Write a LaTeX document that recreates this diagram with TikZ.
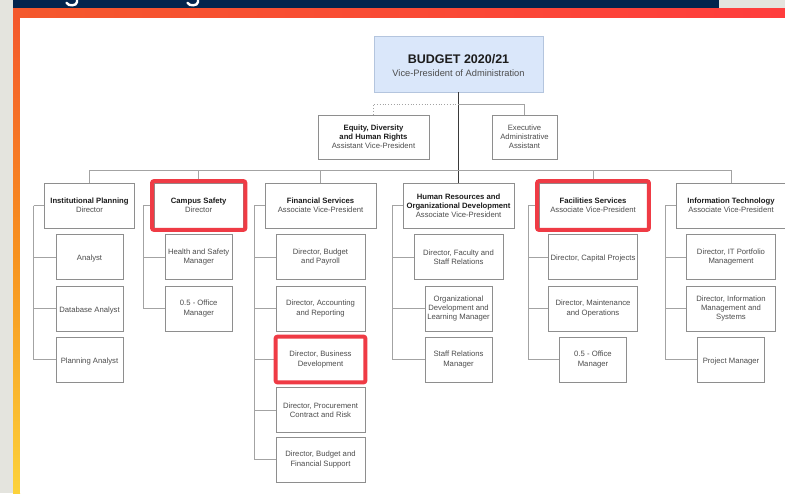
\documentclass[tikz,border=0pt]{standalone}
\usepackage{fontspec}
\setmainfont{Liberation Sans}
\usetikzlibrary{fit}

\definecolor{navy}{HTML}{03244D}
\definecolor{pagegray}{HTML}{E4E4DE}
\definecolor{hlred}{HTML}{EF3B45}
\definecolor{boxline}{HTML}{8E8E8E}
\definecolor{wirecol}{HTML}{A3A3A3}
\definecolor{mainwire}{HTML}{3A3A3A}
\definecolor{titlecol}{HTML}{1C1C1C}
\definecolor{subcol}{HTML}{4D4D4D}
\definecolor{topfill}{HTML}{DAE7FA}
\definecolor{topline}{HTML}{B4C5DE}
\definecolor{frameA}{HTML}{F4582C}
\definecolor{frameB}{HTML}{FF3D3D}
\definecolor{frameC}{HTML}{F7921F}
\definecolor{frameD}{HTML}{FCD23B}

\newcommand{\orgtitle}[1]{\textcolor{titlecol}{\bfseries #1}}

\begin{document}
\begin{tikzpicture}[x=1pt,y=-1pt,
  box/.style={draw=boxline, line width=0.8pt, fill=white, align=center,
    inner sep=1pt, font=\fontsize{7.7}{9.2}\selectfont, text=subcol,
    execute at begin node={\rule{0pt}{9.3pt}}},
  wide/.style={box, minimum width=89pt, minimum height=45pt},
  narrow/.style={box, minimum width=67pt, minimum height=45pt},
  head/.style={box, minimum height=45pt},
  wire/.style={draw=wirecol, line width=0.8pt},
  hilite/.style={draw=hlred, line width=4pt, rounded corners=2pt, inner sep=1.5pt,
    execute at begin node={}},
]
\useasboundingbox (0,0) rectangle (785,493);

% slide frame
\fill[pagegray] (0,0) rectangle (785,493);
\fill[navy] (13,0) rectangle (719,8);
\shade[left color=frameA, right color=frameB] (13,8) rectangle (785,18);
\shade[top color=frameA, bottom color=frameD, middle color=frameC] (13,18) rectangle (20,493);
\fill[white] (20,18) rectangle (785,493);
% tails of the heading letters
\draw[white, line width=2.4pt, line cap=round] (77,0) -- (77,2) .. controls (77,6) and (68,6.5) .. (66.5,2.8);
\draw[white, line width=2.4pt, line cap=round] (198,0) -- (198,2) .. controls (198,6) and (189,6.5) .. (187.5,2.8);

% top level
\node[draw=topline, fill=topfill, line width=0.8pt, minimum width=169pt, minimum height=56pt,
  align=center, inner sep=0pt, font=\fontsize{9.3}{13.5}\selectfont, text=subcol] (budget) at (458.5,64)
  {\rule{0pt}{12pt}{\fontsize{12.5}{13.5}\selectfont\orgtitle{BUDGET 2020/21}}\\Vice-President of Administration};

\node[box, minimum width=111pt, minimum height=44pt] (equity) at (373.5,137)
  {\orgtitle{Equity, Diversity}\\\orgtitle{and Human Rights}\\Assistant Vice-President};
\node[box, minimum width=65pt, minimum height=44pt] (exec) at (524.5,137)
  {Executive\\Administrative\\Assistant};

% department heads
\node[head, minimum width=90pt] (ip) at (89.5,205.5) {\orgtitle{Institutional Planning}\\Director};
\node[head, minimum width=89.5pt] (cs) at (198.7,205.5) {\orgtitle{Campus Safety}\\Director};
\node[head, minimum width=111pt] (fs) at (320.5,205.5) {\orgtitle{Financial Services}\\Associate Vice-President};
\node[head, minimum width=111pt] (hr) at (458.5,205.5) {\orgtitle{Human Resources and}\\\orgtitle{Organizational Development}\\Associate Vice-President};
\node[head, minimum width=108pt] (fac) at (593,205.5) {\orgtitle{Facilities Services}\\Associate Vice-President};
\node[head, minimum width=110pt] (it) at (731,205.5) {\orgtitle{Information Technology}\\Associate Vice-President};

% Institutional Planning
\node[narrow] (ip1) at (89.5,257) {Analyst};
\node[narrow] (ip2) at (89.5,308.5) {Database Analyst};
\node[narrow] (ip3) at (89.5,359.5) {Planning Analyst};
% Campus Safety
\node[narrow] (cs1) at (198.7,257) {Health and Safety\\Manager};
\node[narrow] (cs2) at (198.7,308.5) {0.5 - Office\\Manager};
% Financial Services
\node[wide] (fs1) at (320.5,257) {Director, Budget\\and Payroll};
\node[wide] (fs2) at (320.5,308.5) {Director, Accounting\\and Reporting};
\node[wide] (fs3) at (320.5,359.5) {Director, Business\\Development};
\node[wide] (fs4) at (320.5,410) {Director, Procurement\\Contract and Risk};
\node[wide] (fs5) at (320.5,459.5) {Director, Budget and\\Financial Support};
% Human Resources
\node[wide] (hr1) at (458.5,257) {Director, Faculty and\\Staff Relations};
\node[narrow] (hr2) at (458.5,308.5) {Organizational\\Development and\\Learning Manager};
\node[narrow] (hr3) at (458.5,359.5) {Staff Relations\\Manager};
% Facilities Services
\node[wide] (fac1) at (593,257) {Director, Capital Projects};
\node[wide] (fac2) at (593,308.5) {Director, Maintenance\\and Operations};
\node[narrow] (fac3) at (593,359.5) {0.5 - Office\\Manager};
% Information Technology
\node[wide] (it1) at (731,257) {Director, IT Portfolio\\Management};
\node[wide] (it2) at (731,308.5) {Director, Information\\Management and\\Systems};
\node[narrow] (it3) at (731,359.5) {Project Manager};

% reporting lines
\coordinate (split) at (458.5,104);
\coordinate (bus) at (458.5,170.7);
\draw[draw=mainwire, line width=0.9pt] (budget.south) -- (hr.north);
\draw[wire, dotted, line width=0.9pt] (equity.north) |- (split);
\draw[wire] (split) -| (exec.north);
\draw[wire] (ip.north) |- (bus) -| (it.north);
\foreach \d in {cs,fs,fac}
  \draw[wire] (\d.north) -- (\d.north |- bus);

\foreach \d/\kids in {ip/{ip1,ip2,ip3}, cs/{cs1,cs2}, fs/{fs1,fs2,fs3,fs4,fs5},
                      hr/{hr1,hr2,hr3}, fac/{fac1,fac2,fac3}, it/{it1,it2,it3}} {
  \draw[wire] (\d.west) -- ++(-10.5,0) coordinate (\d bus);
  \foreach \k in \kids
    \draw[wire] (\d bus) |- (\k.west);
}

% highlighted positions
\node[hilite, fit=(cs)] (cshl) {};
\node[hilite, fit=(fac)] (fachl) {};
\node[hilite, inner sep=0pt, fit=(fs3)] (fs3hl) {};
\end{tikzpicture}
\end{document}
